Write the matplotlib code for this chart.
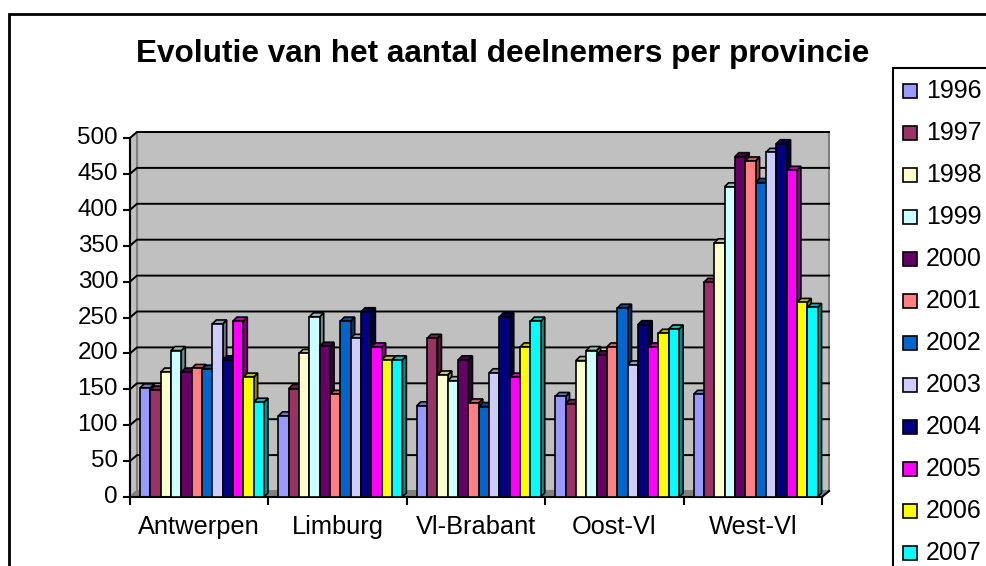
import numpy as np
import matplotlib
matplotlib.use("Agg")
import matplotlib.pyplot as plt
from matplotlib.patches import Polygon, Rectangle
from matplotlib.colors import to_rgb

plt.rcParams['font.family'] = ['Liberation Sans', 'DejaVu Sans']

provinces = ['Antwerpen', 'Limburg', 'Vl-Brabant', 'Oost-Vl', 'West-Vl']
years = ['1996', '1997', '1998', '1999', '2000', '2001',
         '2002', '2003', '2004', '2005', '2006', '2007']
colors = ['#9999FF', '#993366', '#FFFFCC', '#CCFFFF', '#660066', '#FF8080',
          '#0066CC', '#CCCCFF', '#000080', '#FF00FF', '#FFFF00', '#00FFFF']

# deelnemers per jaar, in volgorde van de provincies
y1996 = [152, 113, 127, 140, 143]
y1997 = [149, 151, 221, 130, 299]
y1998 = [174, 200, 170, 190, 354]
y1999 = [204, 251, 162, 204, 432]
y2000 = [174, 210, 191, 198, 474]
y2001 = [179, 143, 131, 209, 468]
y2002 = [178, 245, 126, 263, 438]
y2003 = [241, 221, 173, 184, 480]
y2004 = [191, 258, 251, 240, 492]
y2005 = [245, 209, 167, 209, 455]
y2006 = [167, 191, 209, 228, 271]
y2007 = [132, 191, 245, 234, 264]
series = [y1996, y1997, y1998, y1999, y2000, y2001,
          y2002, y2003, y2004, y2005, y2006, y2007]

yticks = np.arange(0, 501, 50)

W, H = 987, 566
fig = plt.figure(figsize=(W / 100, H / 100), dpi=100)
fig.patch.set_facecolor('white')

# plot area in pixels: left axis at x=130, floor at y=497, 500 at y=138
ax = fig.add_axes([130 / W, (H - 497) / H, 692 / W, 359 / H])
ax.set_xlim(0, 5)
ax.set_ylim(0, 500)
ax.axis('off')

pxx = 692 / 5      # pixels per category
pxy = 359 / 500    # pixels per unit
wdx, wdy = 7 / pxx, 6 / pxy     # wall depth
bdx, bdy = 4 / pxx, 4 / pxy     # bar depth
n = len(provinces)

def poly(pts, fc, ec='none', lw=1.0, z=1):
    p = Polygon(pts, closed=True, facecolor=fc, edgecolor=ec, linewidth=lw,
                zorder=z, clip_on=False)
    ax.add_patch(p)

# walls and floor
poly([(wdx, wdy), (n + wdx, wdy), (n + wdx, 500 + wdy), (wdx, 500 + wdy)],
     '#C0C0C0', '#808080', 1.5, 0)
poly([(0, 0), (wdx, wdy), (wdx, 500 + wdy), (0, 500)],
     '#C0C0C0', '#808080', 1.5, 0)
poly([(0, 0), (n, 0), (n + wdx, wdy), (wdx, wdy)],
     '#808080', '#808080', 1.0, 0)

# gridlines on the walls
for v in yticks[1:]:
    ax.plot([0, wdx, n + wdx], [v, v + wdy, v + wdy], color='black',
            lw=1.4, zorder=0.5, clip_on=False)

# axes lines and ticks
ax.plot([0, 0], [0, 500], color='black', lw=1.5, zorder=5, clip_on=False)
ax.plot([0, n], [0, 0], color='black', lw=1.5, zorder=5, clip_on=False)
ax.plot([n, n + wdx], [0, wdy], color='black', lw=1.5, zorder=5, clip_on=False)
tick_x = 6 / pxx
tick_y = 7 / pxy
for v in yticks:
    ax.plot([-tick_x, 0], [v, v], color='black', lw=1.5, clip_on=False)
    ax.text(-12 / pxx, v, str(v), ha='right', va='center', fontsize=17.4)
for i in range(n + 1):
    ax.plot([i, i], [0, -tick_y], color='black', lw=1.5, clip_on=False)
for i, name in enumerate(provinces):
    ax.text(i + 0.5, -30 / pxy, name, ha='center', va='center', fontsize=18.3)

# 3D-style bars
bw = 10.33 / pxx
start = 10 / pxx

def shade(c, f):
    r, g, b = to_rgb(c)
    return (r * f, g * f, b * f)

for i in range(n):
    for j, vals in enumerate(series):
        h = vals[i]
        x0 = i + start + j * bw
        x1 = x0 + bw
        z = 2 + i * 20 + j
        poly([(x1, 0), (x1 + bdx, bdy), (x1 + bdx, h + bdy), (x1, h)],
             shade(colors[j], 0.55), 'black', 1.2, z)
        poly([(x0, h), (x1, h), (x1 + bdx, h + bdy), (x0 + bdx, h + bdy)],
             shade(colors[j], 0.75), 'black', 1.2, z)
        poly([(x0, 0), (x1, 0), (x1, h), (x0, h)], colors[j], 'black', 1.2, z)

# title
fig.text(503 / W, 1 - 54 / H, 'Evolutie van het aantal deelnemers per provincie',
         ha='center', va='center', fontsize=22.7, fontweight='bold')

# outer chart border
fig.patches.append(Rectangle((9 / W, -0.05), 1.1, 1 - 14 / H + 0.05,
                             transform=fig.transFigure, fill=False,
                             edgecolor='black', linewidth=2))

# legend
fig.patches.append(Rectangle((893 / W, -0.05), 0.2, 1 - 68 / H + 0.05,
                             transform=fig.transFigure, facecolor='white',
                             edgecolor='black', linewidth=1.5))
for j, yr in enumerate(years):
    yc = 91 + j * 42.0
    fig.patches.append(Rectangle((903 / W, 1 - (yc + 7) / H), 14 / W, 14 / H,
                                 transform=fig.transFigure,
                                 facecolor=colors[j], edgecolor='black',
                                 linewidth=1.2))
    fig.text(926 / W, 1 - yc / H, yr, ha='left', va='center', fontsize=18)

fig.savefig('out.png', dpi=100)
